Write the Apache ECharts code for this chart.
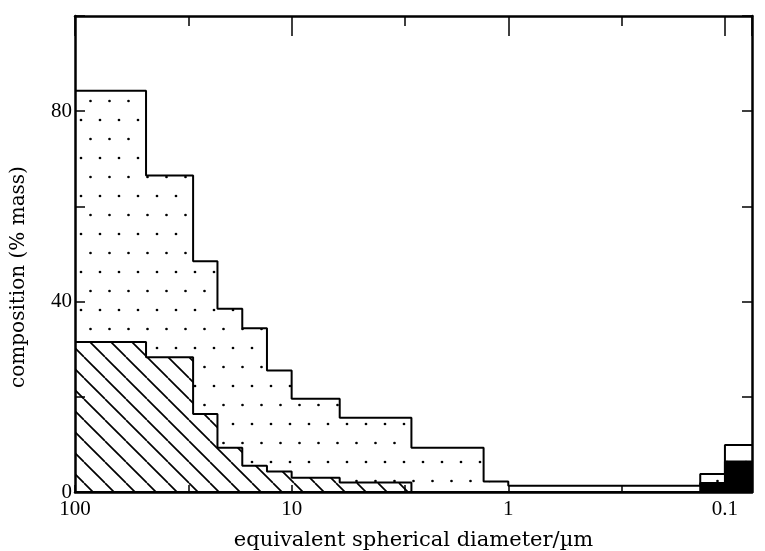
<!DOCTYPE html>
<html><head><meta charset="utf-8">
<script src="https://cdn.jsdelivr.net/npm/echarts@6/dist/echarts.min.js"></script>
<style>html,body{margin:0;padding:0;background:#fff}#c{width:765px;height:551px}</style>
</head><body><div id="c"></div>
<script>
// Bin left edges (µm), last entry = right end of last bin (axis end)
const binEdges = [100, 47, 28.5, 22, 16.9, 13, 10, 6, 2.8, 1.3, 1, 0.13, 0.1, 0.075];
// total composition (% mass) per bin (outline of dotted region)
const totalMass = [84.3, 66.5, 48.5, 38.5, 34.4, 25.5, 19.6, 15.6, 9.3, 2.2, 1.3, 3.8, 9.9];
// hatched component
const hatchedMass = [31.5, 28.3, 16.4, 9.3, 5.5, 4.3, 3.0, 2.0, 0, 0, 0, 0, 0];
// black component
const blackMass = [0, 0, 0, 0, 0, 0, 0, 0, 0, 0, 0, 1.9, 6.4];
const xTickValues = [100, 10, 1, 0.1];
const xTickLabels = ['100', '10', '1', '0.1'];
const yTickValues = [0, 40, 80];
const yTickLabels = ['0', '40', '80'];
const xTitle = 'equivalent spherical diameter/\u00b5m';
const yTitle = 'composition (% mass)';

const FONT = 'Liberation Serif';
const TITLE_FONT = 'DejaVu Serif';

function stepData(vals) {
  const d = vals.map((v, i) => [binEdges[i], v]);
  d.push([binEdges[binEdges.length - 1], vals[vals.length - 1]]);
  return d;
}
function dotPattern() {
  const c = document.createElement('canvas');
  c.width = 19; c.height = 38;
  const g = c.getContext('2d');
  g.fillStyle = '#fff'; g.fillRect(0, 0, 19, 38);
  g.fillStyle = '#000';
  g.beginPath(); g.arc(5, 6, 1.35, 0, Math.PI * 2); g.fill();
  g.beginPath(); g.arc(14.5, 25, 1.35, 0, Math.PI * 2); g.fill();
  return c;
}
function hatchPattern() {
  const s = 21;
  const c = document.createElement('canvas');
  c.width = s; c.height = s;
  const g = c.getContext('2d');
  g.fillStyle = '#fff'; g.fillRect(0, 0, s, s);
  g.strokeStyle = '#000'; g.lineWidth = 1.7;
  for (let k = -1; k <= 1; k++) {
    g.beginPath(); g.moveTo(k * s, 0); g.lineTo(k * s + s, s); g.stroke();
  }
  return c;
}
function xLabel(v) {
  for (let i = 0; i < xTickValues.length; i++) {
    if (Math.abs(Math.log10(v) - Math.log10(xTickValues[i])) < 1e-6) return xTickLabels[i];
  }
  return '';
}
function yLabel(v) {
  const i = yTickValues.indexOf(v);
  return i >= 0 ? yTickLabels[i] : '';
}
const xMin = binEdges[binEdges.length - 1], xMax = binEdges[0];
const blackLine = { color: '#000', width: 2.5 };
const tickStyle = { color: '#000', width: 1.5 };
const baseX = {
  type: 'log', logBase: 10, min: xMin, max: xMax, inverse: true, z: 10,
  splitLine: { show: false }, axisLabel: { show: false },
  axisLine: { show: true, onZero: false, lineStyle: blackLine }
};
const chart = echarts.init(document.getElementById('c'), null, { renderer: 'canvas' });
chart.setOption({
  animation: false,
  backgroundColor: '#fff',
  grid: { left: 75, right: 13, top: 16, bottom: 59, containLabel: false, outerBoundsMode: 'none' },
  xAxis: [
    Object.assign({}, baseX, {
      position: 'bottom',
      axisTick: { show: true, inside: true, length: 7, lineStyle: tickStyle },
      axisLabel: { show: true, formatter: xLabel, color: '#000', fontFamily: FONT, fontSize: 21, margin: 7 },
      name: xTitle, nameLocation: 'middle', nameGap: 38,
      nameTextStyle: { color: '#000', fontFamily: TITLE_FONT, fontSize: 21 }
    }),
    Object.assign({}, baseX, {
      position: 'top',
      axisTick: { show: true, inside: true, length: 20, lineStyle: tickStyle }
    }),
    Object.assign({}, baseX, {
      position: 'top', min: xMin / 3, max: xMax / 3,
      axisLine: { show: false, onZero: false },
      axisTick: { show: true, inside: true, length: 10, lineStyle: tickStyle }
    }),
    Object.assign({}, baseX, {
      position: 'bottom', min: xMin / 3, max: xMax / 3,
      axisLine: { show: false, onZero: false },
      axisTick: { show: true, inside: true, length: 7, lineStyle: tickStyle }
    })
  ],
  yAxis: [
    {
      type: 'value', min: 0, max: 100, interval: 20, position: 'left', z: 10,
      splitLine: { show: false },
      axisLine: { show: true, onZero: false, lineStyle: blackLine },
      axisTick: { show: true, inside: true, length: 10, lineStyle: tickStyle },
      axisLabel: { formatter: yLabel, color: '#000', fontFamily: FONT, fontSize: 21, margin: 3 },
      name: yTitle, nameLocation: 'middle', nameGap: 46, nameRotate: 90,
      nameTextStyle: { color: '#000', fontFamily: TITLE_FONT, fontSize: 20, padding: [0, 46, 0, 0] }
    },
    {
      type: 'value', min: 0, max: 100, interval: 20, position: 'right', z: 10,
      splitLine: { show: false },
      axisLine: { show: true, onZero: false, lineStyle: blackLine },
      axisTick: { show: true, inside: true, length: 10, lineStyle: tickStyle },
      axisLabel: { show: false }
    }
  ],
  series: [
    {
      name: 'total', type: 'line', step: 'end', xAxisIndex: 0, yAxisIndex: 0,
      data: stepData(totalMass), showSymbol: false, symbol: 'none',
      lineStyle: { color: '#000', width: 2 },
      areaStyle: { color: { image: dotPattern(), repeat: 'repeat' }, opacity: 1 },
      z: 2
    },
    {
      name: 'hatched', type: 'line', step: 'end', xAxisIndex: 0, yAxisIndex: 0,
      data: stepData(hatchedMass), showSymbol: false, symbol: 'none',
      lineStyle: { color: '#000', width: 2 },
      areaStyle: { color: { image: hatchPattern(), repeat: 'repeat' }, opacity: 1 },
      z: 3
    },
    {
      name: 'black', type: 'line', step: 'end', xAxisIndex: 0, yAxisIndex: 0,
      data: stepData(blackMass), showSymbol: false, symbol: 'none',
      lineStyle: { color: '#000', width: 2 },
      areaStyle: { color: '#000', opacity: 1 },
      z: 4
    }
  ]
});
</script>
</body></html>
